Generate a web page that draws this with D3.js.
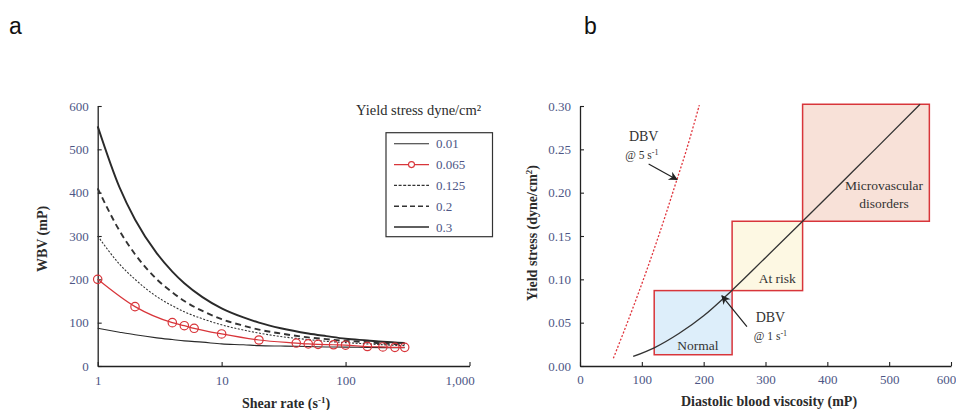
<!DOCTYPE html>
<html><head><meta charset="utf-8">
<script src="https://cdn.jsdelivr.net/npm/d3@7"></script>
<style>body{margin:0;background:#fff}</style>
</head><body><svg id="c" width="956" height="410"></svg>
<script>
// ---------- Panel a data ----------
const shearRates = [1,1.5,2,3,4,5,7,10,15,20,30,50,70,100,150,200,300];
const wbvYield001  = [87,78,72,65,61,58,55,51,49,47,46,45,44,43.5,43,42.5,42];
const wbvYield0125 = [300,235,200,160,139,125,109,95,83,76,68,61,57,54,51,49,47];
const wbvYield02   = [410,312,258,200,170,150,127,108,93,84,75,66,62,58,55,52,50];
const wbvYield03   = [553,412,338,260,218,191,159,133,112,100,87,75,69,63,59,56,53];
const redShear = [1,2,4,5,6,10,20,40,50,60,80,100,150,200,250,300];
const redWBV   = [200,137,100,93,87,74,60,53,51,50,49,48,45,44,43,43];
const legendLabels = ["0.01","0.065","0.125","0.2","0.3"];
const shearTicks = [1,10,100,1000];
const wbvTicks = [0,100,200,300,400,500,600];

// ---------- Panel b data ----------
const dbv1Visc   = [86,120,160,200,246,300,360,420,480,550];
const dbv1Stress = [0.011,0.021,0.0375,0.058,0.0875,0.125,0.167,0.2095,0.252,0.302];
const dbv5Visc   = [54,76,97,117,136,154,172,193];
const dbv5Stress = [0.009,0.049,0.089,0.129,0.169,0.209,0.249,0.301];
const zoneNames = ["Normal","At risk","Microvascular"];
const zoneVisc0 = [120,246,360];
const zoneVisc1 = [246,360,565];
const zoneStress0 = [0.013,0.087,0.167];
const zoneStress1 = [0.087,0.167,0.302];
const viscTicks = [0,100,200,300,400,500,600];
const stressTicks = [0,0.05,0.10,0.15,0.20,0.25,0.30];

const svg = d3.select("#c");
const serif = "'Liberation Serif','Times New Roman',serif";
const tickColor = "#4d5685";
const dark = "#2b2b2b";
const red = "#d8353a";

// panel letters
svg.append("text").attr("x",9).attr("y",34).text("a")
  .attr("font-family","Arial, 'Liberation Sans', sans-serif").attr("font-size",23).attr("fill","#111");
svg.append("text").attr("x",584).attr("y",34).text("b")
  .attr("font-family","Arial, 'Liberation Sans', sans-serif").attr("font-size",23).attr("fill","#111");

function styleAxis(g){
  g.select(".domain").attr("stroke","#222").attr("stroke-width",1.3);
  g.selectAll(".tick line").attr("stroke","#222").attr("stroke-width",1.1);
  g.selectAll(".tick text").attr("font-family",serif).attr("font-size",13).attr("fill",tickColor);
}

// ================= Panel a =================
const xA = d3.scaleLog().domain([1,1000]).range([97.7,469.5]);
const yA = d3.scaleLinear().domain([0,600]).range([366,106]);

const gxA = svg.append("g").attr("transform","translate(0,366)")
  .call(d3.axisBottom(xA).tickValues(shearTicks).tickFormat(d3.format(",")).tickSizeInner(-4).tickSizeOuter(0).tickPadding(10));
styleAxis(gxA);
gxA.selectAll(".tick text").filter(d=>d===1000).attr("dx",-10);
const gyA = svg.append("g").attr("transform","translate(97.7,0)")
  .call(d3.axisLeft(yA).tickValues(wbvTicks).tickSizeInner(-4).tickSizeOuter(0).tickPadding(9));
styleAxis(gyA);

const lineA = d3.line().x(d=>xA(d[0])).y(d=>yA(d[1])).curve(d3.curveMonotoneX);
const seriesA = [
  {vals:wbvYield001, w:1.1, dash:null, c:"#2a2a2a"},
  {vals:wbvYield0125, w:1.1, dash:"2,1.6", c:"#333"},
  {vals:wbvYield02, w:1.9, dash:"6,4", c:"#333"},
  {vals:wbvYield03, w:1.9, dash:null, c:"#2a2a2a"}
];
seriesA.forEach(s=>{
  svg.append("path").datum(shearRates.map((g,i)=>[g,s.vals[i]]))
    .attr("d",lineA).attr("fill","none").attr("stroke",s.c)
    .attr("stroke-width",s.w).attr("stroke-dasharray",s.dash);
});
const redData = redShear.map((g,i)=>[g,redWBV[i]]);
svg.append("path").datum(redData).attr("d",lineA).attr("fill","none")
  .attr("stroke",red).attr("stroke-width",1.2);
svg.selectAll("circle.red").data(redData).enter().append("circle")
  .attr("cx",d=>xA(d[0])).attr("cy",d=>yA(d[1])).attr("r",4.2)
  .attr("fill","none").attr("stroke",red).attr("stroke-width",1.2);

// axis titles a
svg.append("text").attr("transform","translate(47,239) rotate(-90)")
  .attr("text-anchor","middle").attr("font-family",serif).attr("font-size",14)
  .attr("font-weight","bold").attr("fill",dark).text("WBV (mP)");
const stA = svg.append("text").attr("x",286).attr("y",408).attr("text-anchor","middle")
  .attr("font-family",serif).attr("font-size",14).attr("font-weight","bold").attr("fill",dark);
stA.append("tspan").text("Shear rate (s");
stA.append("tspan").attr("font-size",9).attr("dy",-5).text("-1");
stA.append("tspan").attr("dy",5).text(")");

// legend a
svg.append("text").attr("x",356).attr("y",115).attr("font-family",serif).attr("font-size",14.5)
  .attr("fill",dark).text("Yield stress dyne/cm²");
svg.append("rect").attr("x",386).attr("y",132.7).attr("width",106.5).attr("height",104)
  .attr("fill","none").attr("stroke","#333").attr("stroke-width",1.2);
const legStyles = [
  {w:1.1,dash:null,c:"#2a2a2a"},
  {w:1.2,dash:null,c:red,marker:true},
  {w:1.1,dash:"3,1.6",c:"#333"},
  {w:1.5,dash:"5,3",c:"#333"},
  {w:1.5,dash:null,c:"#2a2a2a"}
];
legendLabels.forEach((lab,i)=>{
  const y = 143.8 + i*20.8;
  const s = legStyles[i];
  svg.append("line").attr("x1",394).attr("x2",429).attr("y1",y).attr("y2",y)
    .attr("stroke",s.c).attr("stroke-width",s.w).attr("stroke-dasharray",s.dash);
  if(s.marker) svg.append("circle").attr("cx",411.5).attr("cy",y).attr("r",3)
    .attr("fill","#fff").attr("stroke",red).attr("stroke-width",1.1);
  svg.append("text").attr("x",436).attr("y",y+4.5).attr("font-family",serif)
    .attr("font-size",13).attr("fill",tickColor).text(lab);
});

// ================= Panel b =================
const xB = d3.scaleLinear().domain([0,600]).range([580,951]);
const yB = d3.scaleLinear().domain([0,0.30]).range([366,106]);

const zoneFills = ["#ddeefa","#fdf8e3","#f8e1d8"];
zoneNames.forEach((n,i)=>{
  svg.append("rect").attr("x",xB(zoneVisc0[i])).attr("y",yB(zoneStress1[i]))
    .attr("width",xB(zoneVisc1[i])-xB(zoneVisc0[i]))
    .attr("height",yB(zoneStress0[i])-yB(zoneStress1[i]))
    .attr("fill",zoneFills[i]).attr("stroke",red).attr("stroke-width",1.5);
});

const gxB = svg.append("g").attr("transform","translate(0,366)")
  .call(d3.axisBottom(xB).tickValues(viscTicks).tickFormat(d3.format("d")).tickSizeInner(-4).tickSizeOuter(0).tickPadding(9));
styleAxis(gxB);
gxB.selectAll(".tick text").filter(d=>d===600).attr("dx",-5);
const gyB = svg.append("g").attr("transform","translate(580,0)")
  .call(d3.axisLeft(yB).tickValues(stressTicks).tickFormat(d3.format(".2f")).tickSizeInner(-4).tickSizeOuter(0).tickPadding(9));
styleAxis(gyB);

const lineB = d3.line().x(d=>xB(d[0])).y(d=>yB(d[1])).curve(d3.curveMonotoneX);
svg.append("path").datum(dbv5Visc.map((v,i)=>[v,dbv5Stress[i]]))
  .attr("d",d3.line().x(d=>xB(d[0])).y(d=>yB(d[1])).curve(d3.curveCatmullRom))
  .attr("fill","none").attr("stroke","#e0343c").attr("stroke-width",1.3).attr("stroke-dasharray","2,1.8");
svg.append("path").datum(dbv1Visc.map((v,i)=>[v,dbv1Stress[i]]))
  .attr("d",lineB).attr("fill","none").attr("stroke","#333").attr("stroke-width",1.3);

// arrow marker
svg.append("defs").append("marker").attr("id","arr").attr("viewBox","0 0 10 10")
  .attr("refX",9).attr("refY",5).attr("markerWidth",11).attr("markerHeight",9)
  .attr("markerUnits","userSpaceOnUse").attr("orient","auto")
  .append("path").attr("d","M0,0 L10,5 L0,10 L3,5 z").attr("fill","#222");

function label(x,y,txt,size){
  return svg.append("text").attr("x",x).attr("y",y).attr("text-anchor","middle")
    .attr("font-family",serif).attr("font-size",size).attr("fill","#333").text(txt);
}
// DBV @ 5
label(xB(103),yB(0.265)+5,"DBV",14);
const t5 = svg.append("text").attr("x",xB(100)).attr("y",yB(0.2435)+4).attr("text-anchor","middle")
  .attr("font-family",serif).attr("font-size",11.5).attr("fill","#333");
t5.append("tspan").text("@ 5 s");
t5.append("tspan").attr("font-size",8).attr("dy",-4).text("-1");
svg.append("line").attr("x1",xB(111)).attr("y1",yB(0.233)).attr("x2",xB(157)).attr("y2",yB(0.215))
  .attr("stroke","#222").attr("stroke-width",1.2).attr("marker-end","url(#arr)");
// DBV @ 1
label(xB(308),yB(0.057)+5,"DBV",14);
const t1 = svg.append("text").attr("x",xB(308)).attr("y",yB(0.035)+4).attr("text-anchor","middle")
  .attr("font-family",serif).attr("font-size",11.5).attr("fill","#333");
t1.append("tspan").text("@ 1 s");
t1.append("tspan").attr("font-size",8).attr("dy",-4).text("-1");
svg.append("line").attr("x1",xB(270)).attr("y1",yB(0.0453)).attr("x2",xB(229.5)).attr("y2",yB(0.081))
  .attr("stroke","#222").attr("stroke-width",1.2).attr("marker-end","url(#arr)");

label(xB(190.7),yB(0.0242)+5,"Normal",13.5);
label(xB(319),yB(0.101)+5,"At risk",13.5);
label(xB(491.6),yB(0.2088)+5,"Microvascular",13.5);
label(xB(491.6),yB(0.1877)+5,"disorders",13.5);

// axis titles b
const ytB = svg.append("text").attr("transform","translate(537,233) rotate(-90)")
  .attr("text-anchor","middle").attr("font-family",serif).attr("font-size",14)
  .attr("font-weight","bold").attr("fill",dark);
ytB.append("tspan").text("Yield stress (dyne/cm");
ytB.append("tspan").attr("font-size",9).attr("dy",-5).text("2");
ytB.append("tspan").attr("dy",5).text(")");
svg.append("text").attr("x",769).attr("y",406).attr("text-anchor","middle")
  .attr("font-family",serif).attr("font-size",14).attr("font-weight","bold").attr("fill",dark)
  .text("Diastolic blood viscosity (mP)");
</script></body></html>
